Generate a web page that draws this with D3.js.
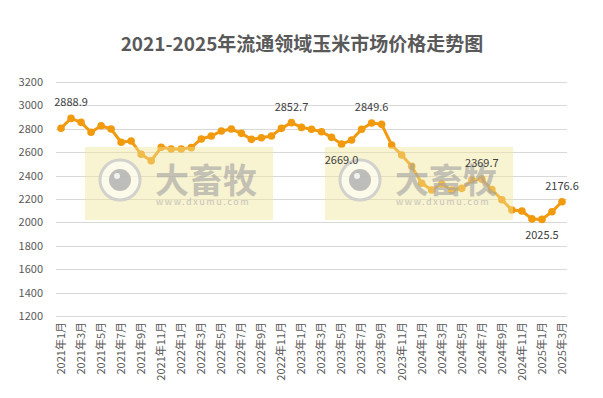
<!DOCTYPE html>
<html>
<head>
<meta charset="utf-8">
<script src="https://cdn.jsdelivr.net/npm/d3@7"></script>
<style>
body { margin: 0; background: #fff; }
text { font-family: "Noto Sans CJK SC", "Microsoft YaHei", sans-serif; }
</style>
</head>
<body>
<div id="viz"></div>
<script>
var width = 603;
var height = 398;

// data //

var years = [2021, 2022, 2023, 2024, 2025];
var months = [];
years.forEach(function(y) {
   var n = y == 2025 ? 3 : 12;
   for (var m = 1; m <= n; m++) months.push(y + "年" + m + "月");
});

var prices = [
   2805, 2888.9, 2855, 2770, 2826, 2798, 2685, 2696, 2582, 2527, 2642, 2627,
   2627, 2639, 2713, 2738, 2781, 2798, 2761, 2710, 2724, 2738, 2804, 2852.7,
   2812, 2796, 2775, 2727, 2669.0, 2704, 2796, 2849.6, 2838, 2662, 2576, 2479,
   2334, 2277, 2328, 2277, 2291, 2362, 2369.7, 2280, 2194, 2106, 2097, 2030,
   2025.5, 2091, 2176.6
];

// labelled points: index and side
var labelIdx = [1, 23, 28, 31, 42, 48, 50];
var labelBelow = [28, 48];

var yTicks = [1200, 1400, 1600, 1800, 2000, 2200, 2400, 2600, 2800, 3000, 3200];

var color = "#F29A0E";

var svg = d3.select("#viz").append("svg")
   .attr("width", width)
   .attr("height", height);

svg.append("rect")
   .attr("width", width)
   .attr("height", height)
   .attr("fill", "#fff");

svg.append("text")
   .attr("x", 302)
   .attr("y", 51)
   .attr("text-anchor", "middle")
   .attr("font-size", 19)
   .attr("font-weight", "bold")
   .attr("fill", "#595959")
   .text("2021-2025年流通领域玉米市场价格走势图");

var x = d3.scaleBand()
   .domain(months)
   .range([56, 567]);

var y = d3.scaleLinear()
   .domain([1200, 3200])
   .range([316, 82]);

// grid //

svg.append("g")
   .selectAll("line")
   .data(yTicks)
   .enter().append("line")
   .attr("x1", 56)
   .attr("x2", 567)
   .attr("y1", function(d) { return Math.round(y(d)) + 0.5; })
   .attr("y2", function(d) { return Math.round(y(d)) + 0.5; })
   .attr("stroke", "#d9d9d9")
   .attr("stroke-width", 1);

var yAxis = svg.append("g")
   .attr("transform", "translate(43,0)")
   .call(d3.axisLeft(y).tickValues(yTicks).tickFormat(d3.format("d")).tickSize(0).tickPadding(0));
yAxis.select(".domain").remove();
yAxis.selectAll("text")
   .attr("font-size", 11)
   .attr("fill", "#595959")
   .attr("font-family", "'Liberation Sans', Arial, sans-serif");

var xAxis = svg.append("g")
   .attr("transform", "translate(0,316)")
   .call(d3.axisBottom(x)
      .tickValues(months.filter(function(d, i) { return i % 2 == 0; }))
      .tickSize(0));
xAxis.select(".domain").remove();
xAxis.selectAll("text")
   .attr("font-size", 11)
   .attr("fill", "#595959")
   .attr("text-anchor", "end")
   .attr("dy", "0.35em")
   .attr("transform", "translate(0,6) rotate(-90)")
   .attr("x", 0)
   .attr("y", 0);

// line //

function cx(i) { return x(months[i]) + x.bandwidth() / 2; }

var line = d3.line()
   .x(function(d, i) { return cx(i); })
   .y(function(d) { return y(d); });

svg.append("path")
   .datum(prices)
   .attr("fill", "none")
   .attr("stroke", color)
   .attr("stroke-width", 3)
   .attr("stroke-linejoin", "round")
   .attr("d", line);

svg.append("g")
   .selectAll("circle")
   .data(prices)
   .enter().append("circle")
   .attr("cx", function(d, i) { return cx(i); })
   .attr("cy", function(d) { return y(d); })
   .attr("r", 3.8)
   .attr("fill", color);

// watermarks //

function watermark(x0, y0) {
   var g = svg.append("g").attr("transform", "translate(" + x0 + "," + y0 + ")");
   g.append("rect")
      .attr("width", 188)
      .attr("height", 73)
      .attr("fill", "#efe49a")
      .attr("opacity", 0.45);
   g.append("circle")
      .attr("cx", 35).attr("cy", 33).attr("r", 20)
      .attr("fill", "#fff").attr("fill-opacity", 0.55)
      .attr("stroke", "#c8c8c8").attr("stroke-width", 3).attr("stroke-opacity", 0.8);
   g.append("circle")
      .attr("cx", 35).attr("cy", 33).attr("r", 11)
      .attr("fill", "#a8a8a8").attr("opacity", 0.75);
   g.append("circle")
      .attr("cx", 32).attr("cy", 29).attr("r", 3)
      .attr("fill", "#fff").attr("opacity", 0.8);
   g.append("text")
      .attr("x", 70).attr("y", 46)
      .attr("font-size", 34)
      .attr("font-weight", "bold")
      .attr("fill", "#a0a0a0")
      .attr("opacity", 0.6)
      .text("大畜牧");
   g.append("text")
      .attr("x", 71).attr("y", 58)
      .attr("font-size", 9)
      .attr("letter-spacing", 1.6)
      .attr("font-family", "'DejaVu Sans', sans-serif")
      .attr("fill", "#b0b0b0")
      .attr("opacity", 0.7)
      .text("www.dxumu.com");
}
watermark(85, 147);
watermark(325, 147);

// data labels //

svg.append("g")
   .selectAll("text")
   .data(labelIdx)
   .enter().append("text")
   .attr("x", function(i) { return cx(i); })
   .attr("y", function(i) {
      return labelBelow.indexOf(i) >= 0 ? y(prices[i]) + 20 : y(prices[i]) - 12;
   })
   .attr("text-anchor", "middle")
   .attr("font-size", 11)
   .attr("font-family", "'Liberation Sans', Arial, sans-serif")
   .attr("fill", "#404040")
   .text(function(i) { return prices[i].toFixed(1); });
</script>
</body>
</html>
